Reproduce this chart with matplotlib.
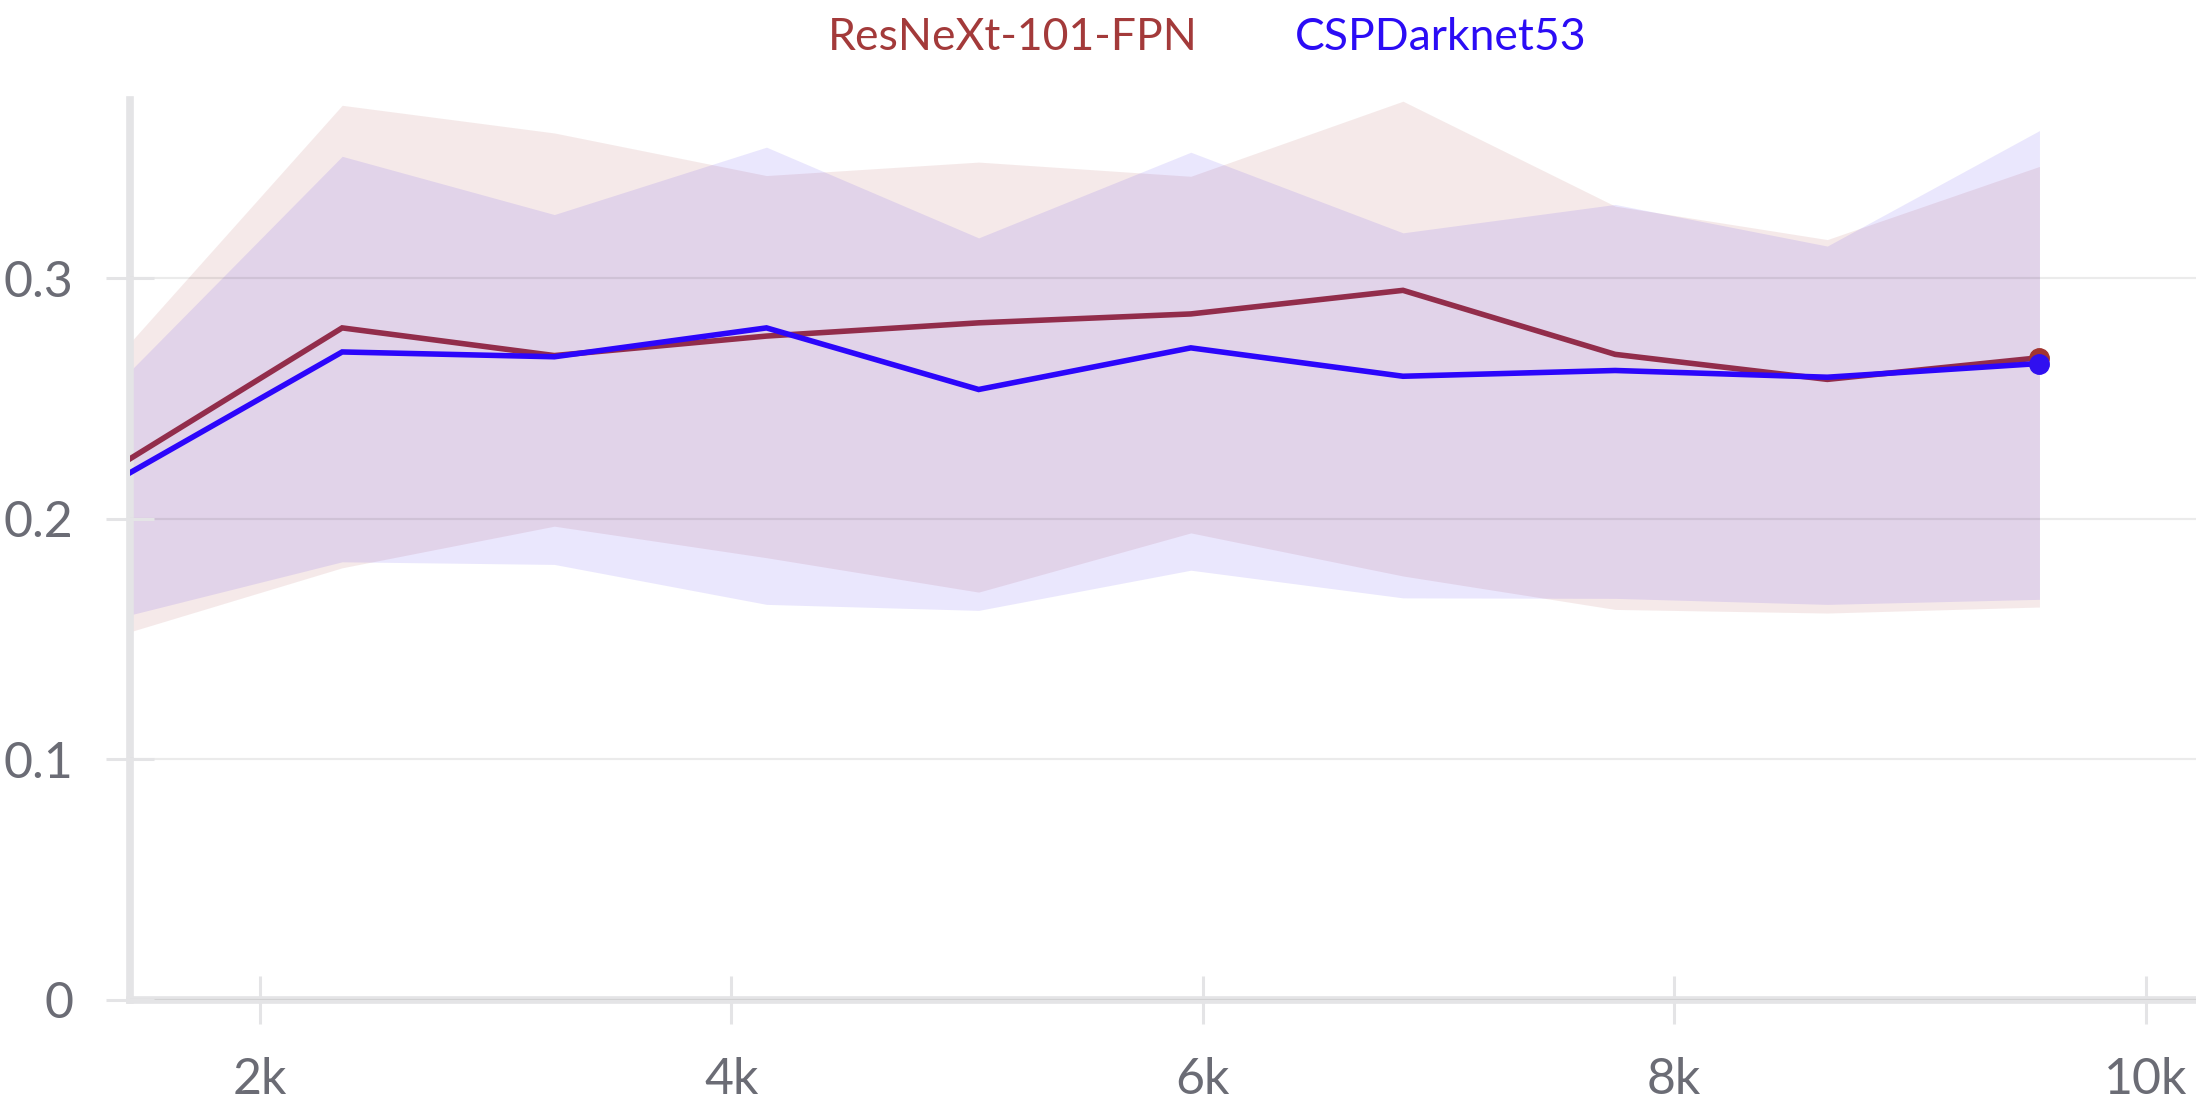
import matplotlib.pyplot as plt

plt.rcParams['font.family'] = ['Lato', 'DejaVu Sans']

# training steps
steps = [1450, 2350, 3250, 4150, 5050, 5950, 6850, 7750, 8650, 9550]

# ResNeXt-101-FPN: mean and min/max band
resnext_mean = [0.2249, 0.2793, 0.2678, 0.2759, 0.2814, 0.2851, 0.2949, 0.2683, 0.2579, 0.2669]
resnext_hi = [0.2731, 0.3718, 0.3603, 0.3426, 0.3482, 0.3423, 0.3735, 0.3299, 0.3160, 0.3464]
resnext_lo = [0.1530, 0.1796, 0.1969, 0.1838, 0.1695, 0.1941, 0.1762, 0.1623, 0.1608, 0.1633]

# CSPDarknet53
csp_mean = [0.2191, 0.2693, 0.2673, 0.2793, 0.2537, 0.2710, 0.2592, 0.2616, 0.2588, 0.2645]
csp_hi = [0.2613, 0.3506, 0.3264, 0.3544, 0.3167, 0.3523, 0.3188, 0.3306, 0.3133, 0.3613]
csp_lo = [0.1600, 0.1821, 0.1810, 0.1644, 0.1619, 0.1786, 0.1671, 0.1669, 0.1644, 0.1665]

labels = ['ResNeXt-101-FPN', 'CSPDarknet53']
x_ticks = [2000, 4000, 6000, 8000, 10000]
x_tick_labels = ['2k', '4k', '6k', '8k', '10k']
y_ticks = [0, 0.1, 0.2, 0.3]
y_tick_labels = ['0', '0.1', '0.2', '0.3']

W, H = 2196, 1108
fig = plt.figure(figsize=(W / 100, H / 100), dpi=100)
ax = fig.add_axes([130 / W, 108 / H, (W - 130) / W, 900 / H])

ax.fill_between(steps, resnext_lo, resnext_hi, color='#a0302d', alpha=0.1, lw=0, zorder=1)
ax.fill_between(steps, csp_lo, csp_hi, color='#2a00f0', alpha=0.095, lw=0, zorder=1.1)

ax.plot(steps, resnext_mean, color='#922d4b', lw=4, zorder=3, solid_joinstyle='miter')
ax.plot(steps, csp_mean, color='#2c06fb', lw=4, zorder=3.2, solid_joinstyle='miter')
ax.plot(steps[-1:], resnext_mean[-1:], 'o', color='#a23530', ms=14, zorder=3.1)
ax.plot(steps[-1:], csp_mean[-1:], 'o', color='#3010f0', ms=14, zorder=3.3)

ax.set_xlim(1450, 10214)
ax.set_ylim(0, 0.374)
ax.set_axisbelow(False)
ax.grid(axis='y', color='black', alpha=0.08, lw=1.6)

ax.set_xticks(x_ticks)
ax.set_xticklabels(x_tick_labels)
ax.set_yticks(y_ticks)
ax.set_yticklabels(y_tick_labels)

for s in ['top', 'right']:
    ax.spines[s].set_visible(False)
for s in ['left', 'bottom']:
    ax.spines[s].set_color('#e4e4e6')
    ax.spines[s].set_linewidth(5.5)

ax.tick_params(axis='both', direction='inout', length=34, width=2.2, color='#e4e4e6',
               labelcolor='#6b6c75', labelsize=36, pad=24)

fig.text(1013 / W, 1 - 37 / H, labels[0], color='#a33a3a', fontsize=32, ha='center', va='center')
fig.text(1441 / W, 1 - 37 / H, labels[1], color='#2b0cf5', fontsize=32, ha='center', va='center')

fig.savefig('out.png', dpi=100, facecolor='white')
